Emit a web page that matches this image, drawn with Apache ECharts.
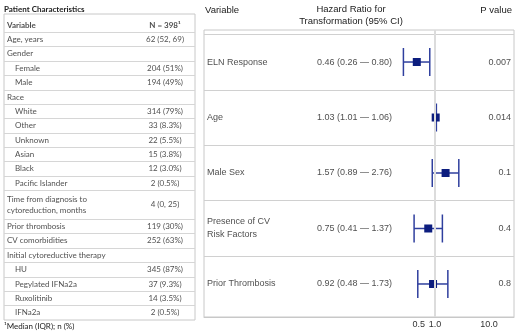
<!DOCTYPE html>
<html>
<head>
<meta charset="utf-8">
<script src="https://cdn.jsdelivr.net/npm/echarts@6/dist/echarts.min.js"></script>
<style>
html, body { margin: 0; padding: 0; background: #fff; }
#main { width: 520px; height: 332px; }
</style>
</head>
<body>
<div id="main"></div>
<script>
// left table data
var tableLabels = ['Age, years', 'Gender', 'Female', 'Male', 'Race', 'White', 'Other', 'Unknown', 'Asian', 'Black',
	'Pacific Islander', 'Time from diagnosis to\ncytoreduction, months', 'Prior thrombosis', 'CV comorbidities',
	'Initial cytoreductive therapy', 'HU', 'Pegylated IFNa2a', 'Ruxolitinib', 'IFNa2a'];
var tableValues = ['62 (52, 69)', '', '204 (51%)', '194 (49%)', '', '314 (79%)', '33 (8.3%)', '22 (5.5%)', '15 (3.8%)',
	'12 (3.0%)', '2 (0.5%)', '4 (0, 25)', '119 (30%)', '252 (63%)', '', '345 (87%)', '37 (9.3%)', '14 (3.5%)', '2 (0.5%)'];
var tableIndent = [0, 0, 1, 1, 0, 1, 1, 1, 1, 1, 1, 0, 0, 0, 0, 1, 1, 1, 1];

// forest plot data
var forestVars = ['ELN Response', 'Age', 'Male Sex', 'Presence of CV\nRisk Factors', 'Prior Thrombosis'];
var hrValues = [0.46, 1.03, 1.57, 0.75, 0.92];
var ciLow = [0.26, 1.01, 0.89, 0.41, 0.48];
var ciHigh = [0.80, 1.06, 2.76, 1.37, 1.73];
var pValues = ['0.007', '0.014', '0.1', '0.4', '0.8'];
var xTicks = [0.5, 1.0, 10.0];

var tableFont = 'Lato';
var plotFont = 'Liberation Sans';
var ciColor = '#2f3f9e';
var boxColor = '#0c1d7e';

function log10(v) {
	return Math.log(v) / Math.LN10;
}

//table rows: a two-line row takes two units
var tableText = [];
var tableSeps = [0.5];
var start = 0.5;
tableLabels.forEach(function(name, i) {
	var h = name.split('\n').length;
	var c = start + h / 2;
	tableText.push({
		value: [tableIndent[i] ? 11 : 3, c],
		label: { formatter: name, align: 'left', lineHeight: 10.5 }
	});
	if (tableValues[i]) {
		tableText.push({
			value: [161, c],
			label: { formatter: tableValues[i], align: 'center' }
		});
	}
	start += h;
	if (i < tableLabels.length - 1) tableSeps.push(start);
});
tableText.push({ value: [3, 0], label: { formatter: 'Variable', align: 'left', fontWeight: 'bold' } });
tableText.push({ value: [161, 0], label: { formatter: 'N = 398\u00b9', align: 'center', fontWeight: 'bold' } });

//forest plot rows
var ciData = [];
var boxData = [];
var forestText = [];
forestVars.forEach(function(name, i) {
	ciData.push([i, log10(ciLow[i]), log10(ciHigh[i])]);
	boxData.push([log10(hrValues[i]), i]);
	forestText.push({ value: [3, i], label: { formatter: name, align: 'left' } });
	forestText.push({
		value: [188, i],
		label: { formatter: hrValues[i].toFixed(2) + ' (' + ciLow[i].toFixed(2) + ' \u2014 ' + ciHigh[i].toFixed(2) + ')', align: 'right' }
	});
	forestText.push({ value: [307, i], label: { formatter: pValues[i], align: 'right' } });
});

var xMin = -231 / 54; // 左边框
var xMax = 79 / 54;

var myChart = echarts.init(document.getElementById('main'));
var option = {
	animation: false,
	graphic: [
		{ type: 'text', left: 4, top: 5, style: { text: 'Patient Characteristics', font: 'bold 8px ' + tableFont, fill: '#222' } },
		{ type: 'text', left: 4, top: 322, style: { text: '\u00b9Median (IQR); n (%)', font: '8px ' + tableFont, fill: '#222' } },
		{ type: 'text', left: 205, top: 5, style: { text: 'Variable', font: '9.5px ' + plotFont, fill: '#222' } },
		{ type: 'text', x: 351, y: 4, style: { text: 'Hazard Ratio for\nTransformation (95% CI)', font: '9.5px ' + plotFont, fill: '#222', align: 'center', lineHeight: 11.5 } },
		{ type: 'text', right: 8, top: 5, style: { text: 'P value', font: '9.5px ' + plotFont, fill: '#222' } }
	],
	grid: [{
		left: 4,
		top: 14,
		width: 191,
		height: 306,
		show: true,
		borderColor: '#c8c8c8',
		borderWidth: 1
	}, {
		left: 204,
		top: 30,
		width: 310,
		height: 287,
		show: true,
		borderColor: '#c8c8c8',
		borderWidth: 1
	}],
	xAxis: [{
		gridIndex: 0,
		type: 'value',
		min: 0,
		max: 191,
		show: false
	}, {
		gridIndex: 1,
		type: 'value',
		min: xMin,
		max: xMax,
		axisLine: { onZero: false, lineStyle: { color: '#c8c8c8' } },
		axisTick: { show: false },
		splitLine: { show: false },
		axisLabel: {
			customValues: xTicks.map(log10),
			margin: 3,
			fontFamily: plotFont,
			fontSize: 9,
			color: '#333',
			formatter: function(v) {
				return Math.pow(10, v).toFixed(1);
			}
		}
	}, {
		gridIndex: 1,
		type: 'value',
		min: 0,
		max: 310,
		show: false
	}],
	yAxis: [{
		gridIndex: 0,
		type: 'value',
		inverse: true,
		min: -0.764,
		max: 20.5,
		show: false
	}, {
		gridIndex: 1,
		type: 'value',
		inverse: true,
		min: -0.577,
		max: 4.595,
		show: false
	}],
	series: [{
		// table text + row lines
		type: 'scatter',
		xAxisIndex: 0,
		yAxisIndex: 0,
		symbolSize: 0,
		silent: true,
		label: {
			show: true,
			position: 'inside',
			verticalAlign: 'middle',
			fontFamily: tableFont,
			fontSize: 8,
			color: '#222'
		},
		data: tableText,
		markLine: {
			silent: true,
			symbol: 'none',
			label: { show: false },
			lineStyle: { color: '#d6d6d6', type: 'solid', width: 1 },
			data: tableSeps.map(function(v) { return { yAxis: v }; })
		}
	}, {
		// forest text + row lines + reference line at HR = 1
		type: 'scatter',
		xAxisIndex: 2,
		yAxisIndex: 1,
		symbolSize: 0,
		silent: true,
		z: 1,
		label: {
			show: true,
			position: 'inside',
			verticalAlign: 'middle',
			fontFamily: plotFont,
			fontSize: 9,
			lineHeight: 13,
			color: '#222'
		},
		data: forestText,
		markLine: {
			silent: true,
			symbol: 'none',
			label: { show: false },
			lineStyle: { color: '#d0d0d0', type: 'solid', width: 1 },
			data: [-0.5, 0.5, 1.5, 2.5, 3.5].map(function(v) {
				return { yAxis: v };
			}).concat([{ xAxis: -xMin * 54, lineStyle: { color: '#dcdcdc', width: 2 } }])
		}
	}, {
		// CI whiskers
		type: 'custom',
		xAxisIndex: 1,
		yAxisIndex: 1,
		z: 3,
		silent: true,
		encode: { x: [1, 2], y: 0 },
		renderItem: function(params, api) {
			var a = api.coord([api.value(1), api.value(0)]);
			var b = api.coord([api.value(2), api.value(0)]);
			var h = 14;
			var st = { stroke: ciColor, lineWidth: 1.5 };
			return {
				type: 'group',
				children: [
					{ type: 'line', shape: { x1: a[0], y1: a[1], x2: b[0], y2: b[1] }, style: st },
					{ type: 'line', shape: { x1: a[0], y1: a[1] - h, x2: a[0], y2: a[1] + h }, style: st },
					{ type: 'line', shape: { x1: b[0], y1: b[1] - h, x2: b[0], y2: b[1] + h }, style: st }
				]
			};
		},
		data: ciData
	}, {
		// hazard ratio squares
		type: 'scatter',
		xAxisIndex: 1,
		yAxisIndex: 1,
		z: 4,
		silent: true,
		symbol: 'rect',
		symbolSize: 8,
		itemStyle: { color: boxColor, opacity: 1 },
		data: boxData
	}]
};
myChart.setOption(option);
</script>
</body>
</html>
